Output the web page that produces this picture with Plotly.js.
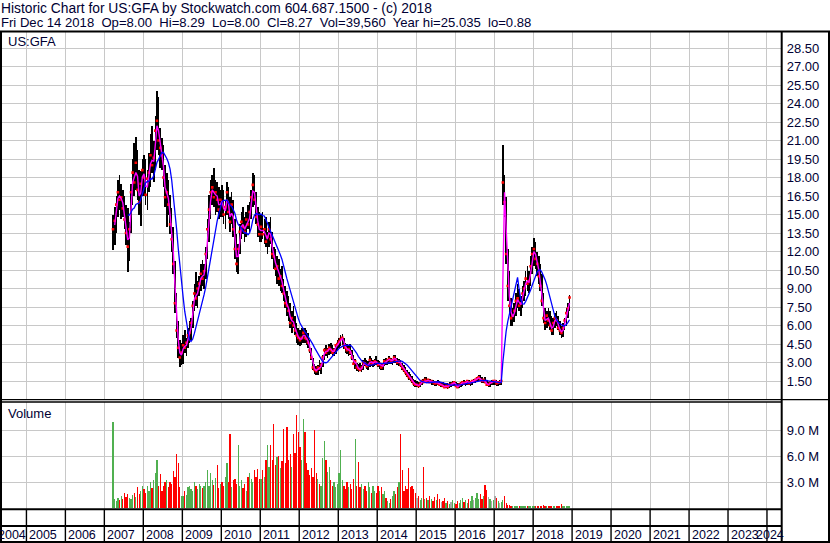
<!DOCTYPE html>
<html>
<head>
<meta charset="utf-8">
<script src="https://cdn.plot.ly/plotly-3.0.1.min.js"></script>
<style>
html,body{margin:0;padding:0;background:#ffffff;}
#chart{width:830px;height:543px;}
</style>
</head>
<body>
<div id="chart"></div>
<script>
// ---------------- text ----------------
const TITLE_LINE_1 = 'Historic Chart for US:GFA by Stockwatch.com 604.687.1500 - (c) 2018';
const TITLE_LINE_2 = 'Fri Dec 14 2018  Op=8.00  Hi=8.29  Lo=8.00  Cl=8.27  Vol=39,560  Year hi=25.035  lo=0.88';
const SYMBOL_LABEL = 'US:GFA';
const VOLUME_LABEL = 'Volume';
const YEARS = [2004,2005,2006,2007,2008,2009,2010,2011,2012,2013,2014,2015,2016,2017,2018,2019,2020,2021,2022,2023,2024];
const PRICE_TICKS = [1.5,3,4.5,6,7.5,9,10.5,12,13.5,15,16.5,18,19.5,21,22.5,24,25.5,27,28.5];
const VOLUME_TICKS = [3e6,6e6,9e6];
const VOLUME_TICK_TEXT = ['3.0 M','6.0 M','9.0 M'];

// ---------------- data: half-month periods, first period = 2nd half of March 2007 ----------------
const FIRST_YEAR = 2007;
const FIRST_HALF_MONTH = 5;   // 0 = 1st half Jan, 5 = 2nd half Mar
const HIGH = [
 // 2007
 15.0,15.6,16.5,17.8,18.2,17.5,17.0,16.5,15.8,15.5,14.4,17.5,19.5,20.8,21.3,20.2,18.6,18.5,19.5,
 // 2008
 19.8,19.5,18.6,20.0,21.5,22.2,21.0,23.0,25.0,24.5,22.0,21.2,20.6,19.0,18.4,17.8,16.6,15.5,14.0,11.2,8.6,6.4,4.8,4.6,
 // 2009
 5.2,5.6,5.0,5.8,6.4,6.6,8.0,9.4,10.3,9.6,10.0,11.0,11.3,11.0,12.4,14.6,16.6,17.8,18.2,18.8,17.8,17.6,17.2,17.0,
 // 2010
 17.4,17.0,16.2,17.6,17.2,16.4,16.8,16.2,14.6,13.4,12.6,14.2,15.2,15.6,14.8,15.2,15.8,16.0,17.0,18.4,18.2,16.8,15.6,15.2,
 // 2011
 15.0,15.2,14.6,14.8,13.6,14.4,14.8,13.6,12.4,12.2,11.6,11.4,10.6,10.8,9.8,9.2,8.8,8.4,7.8,7.2,7.6,6.8,6.2,5.8,
 // 2012
 5.6,5.8,5.8,5.8,5.6,5.4,4.8,4.2,3.4,2.9,2.7,2.8,3.2,3.0,3.6,4.2,4.4,4.2,4.5,4.6,4.4,4.2,4.5,4.8,
 // 2013
 5.0,5.2,5.3,5.0,4.6,4.5,4.3,4.5,4.0,3.6,3.3,3.0,2.9,3.0,2.8,3.2,3.4,3.2,3.1,3.5,3.4,3.2,3.3,3.5,
 // 2014
 3.2,3.1,3.0,3.0,3.3,3.4,3.3,3.5,3.4,3.3,3.6,3.6,3.4,3.3,3.2,3.0,2.8,2.6,2.4,2.2,2.1,1.9,1.7,1.6,
 // 2015
 1.5,1.4,1.4,1.6,1.7,1.8,1.8,1.7,1.7,1.6,1.6,1.5,1.5,1.6,1.5,1.4,1.4,1.3,1.3,1.3,1.4,1.4,1.5,1.5,
 // 2016
 1.4,1.3,1.3,1.4,1.5,1.6,1.5,1.6,1.6,1.5,1.6,1.7,1.7,1.8,2.0,2.0,1.8,1.7,1.8,1.6,1.4,1.5,1.6,1.6,
 // 2017
 1.6,1.6,1.5,1.6,1.6,20.6,18.2,16.4,12.2,10.4,8.2,7.4,7.8,8.6,9.4,9.0,8.4,9.2,9.6,10.4,10.8,10.4,11.6,12.4,
 // 2018
 13.1,12.8,12.0,11.6,11.0,10.2,8.6,7.4,7.2,7.4,7.2,6.8,6.6,7.0,7.2,6.8,6.4,6.0,6.2,6.6,7.4,7.8,8.5
];
const LOW = [
 // 2007
 12.1,12.5,13.5,14.8,15.4,14.6,14.8,13.8,12.5,10.3,11.2,13.5,15.8,16.5,17.0,16.2,15.0,14.1,16.5,
 // 2008
 16.5,15.8,15.4,16.8,17.2,18.4,17.6,18.6,20.2,19.8,18.8,18.6,17.2,15.6,14.0,15.0,13.4,12.0,10.2,7.0,5.0,3.4,2.6,2.8,
 // 2009
 2.9,3.8,3.5,4.2,4.6,4.8,5.8,7.2,7.6,7.4,8.4,8.8,9.2,9.0,9.8,11.4,12.8,14.6,15.8,15.6,15.0,15.2,14.6,14.8,
 // 2010
 14.8,14.2,13.8,15.0,14.6,13.6,14.2,13.2,11.4,10.3,10.2,11.8,13.0,13.4,12.8,13.2,13.8,13.6,14.6,15.6,15.8,14.2,13.2,12.8,
 // 2011
 12.8,13.0,12.6,12.4,11.8,12.4,12.6,11.4,10.6,10.0,9.4,9.2,8.8,8.6,8.0,7.4,6.8,6.4,5.8,5.4,5.8,5.2,4.6,4.4,
 // 2012
 4.3,4.4,4.6,4.6,4.4,4.2,3.8,3.2,2.4,2.1,2.0,2.0,2.3,2.1,2.6,3.2,3.5,3.4,3.6,3.7,3.5,3.5,3.7,4.0,
 // 2013
 4.2,4.3,4.4,4.1,3.8,3.7,3.5,3.6,3.2,2.8,2.5,2.3,2.2,2.3,2.2,2.4,2.7,2.5,2.4,2.6,2.7,2.6,2.7,2.8,
 // 2014
 2.6,2.5,2.4,2.4,2.7,2.8,2.8,2.9,2.9,2.8,3.0,3.0,2.8,2.7,2.6,2.4,2.2,2.0,1.8,1.6,1.5,1.3,1.1,1.0,
 // 2015
 1.0,0.95,1.0,1.2,1.3,1.4,1.4,1.3,1.3,1.2,1.2,1.1,1.1,1.2,1.1,1.0,1.0,0.9,0.9,0.88,0.9,1.0,1.1,1.1,
 // 2016
 1.0,0.9,0.9,1.0,1.1,1.2,1.1,1.2,1.2,1.1,1.2,1.3,1.3,1.4,1.5,1.5,1.3,1.3,1.3,1.1,1.0,1.0,1.2,1.2,
 // 2017
 1.2,1.1,1.1,1.2,1.2,15.8,14.8,11.0,8.0,7.0,6.0,6.0,6.3,6.8,7.4,7.2,6.8,7.4,8.0,8.4,8.8,8.6,9.2,10.2,
 // 2018
 10.8,10.6,10.0,9.4,8.8,7.6,6.2,5.6,5.8,6.0,5.6,5.2,5.2,5.8,6.0,5.6,5.2,5.0,5.1,5.6,6.0,6.6,7.2
];
const CLOSE = [
 // 2007
 13.8,14.5,15.8,16.8,16.2,16.4,15.5,14.6,13.5,12.4,13.8,16.8,18.4,17.6,19.2,17.0,16.0,17.5,18.6,
 // 2008
 18.0,16.6,17.9,18.4,19.8,19.0,19.6,21.8,22.6,21.0,20.4,19.8,18.0,16.4,16.8,15.8,14.2,13.0,11.0,7.8,5.6,4.2,3.4,3.8,
 // 2009
 4.4,4.2,4.6,5.2,5.4,6.2,7.6,8.6,8.2,9.0,9.4,10.2,9.8,10.4,11.8,13.8,15.4,16.8,17.2,16.4,16.8,16.2,15.4,16.2,
 // 2010
 16.0,15.0,15.6,16.8,15.2,14.4,15.8,13.8,12.2,11.0,12.2,13.6,14.4,14.0,13.6,14.6,14.2,15.2,16.4,17.4,16.2,14.8,14.2,13.4,
 // 2011
 14.0,13.4,13.8,12.8,13.2,13.8,13.0,11.8,11.6,10.6,10.8,9.8,10.0,9.2,8.6,7.8,7.6,7.2,6.2,6.6,6.0,5.6,5.2,5.0,
 // 2012
 4.8,5.0,5.4,5.0,4.9,4.6,4.0,3.4,2.6,2.4,2.3,2.6,2.5,2.8,3.4,4.0,3.8,4.0,4.2,4.0,3.8,4.0,4.4,4.5,
 // 2013
 4.7,4.9,5.0,4.4,4.2,4.0,4.1,3.8,3.4,2.9,3.1,2.6,2.5,2.4,2.6,3.0,2.9,2.7,2.8,3.2,2.9,3.0,3.1,3.0,
 // 2014
 2.8,2.9,2.6,2.8,3.1,3.0,3.2,3.3,3.1,3.2,3.4,3.2,3.0,3.1,2.8,2.6,2.4,2.2,2.0,1.8,1.7,1.5,1.3,1.2,
 // 2015
 1.2,1.1,1.3,1.5,1.4,1.6,1.5,1.6,1.4,1.5,1.4,1.3,1.4,1.3,1.2,1.2,1.1,1.0,1.1,1.0,1.2,1.2,1.3,1.4,
 // 2016
 1.1,1.0,1.2,1.3,1.4,1.3,1.4,1.5,1.3,1.4,1.5,1.5,1.6,1.7,1.8,1.6,1.5,1.6,1.4,1.2,1.2,1.4,1.4,1.5,
 // 2017
 1.5,1.3,1.4,1.4,1.5,17.6,16.0,11.8,9.2,7.6,6.6,6.8,7.2,8.0,8.2,7.6,7.8,8.6,9.0,9.8,9.4,9.6,10.8,11.8,
 // 2018
 12.2,11.4,11.0,10.0,9.2,8.0,6.6,6.2,6.8,6.4,6.0,5.6,6.2,6.6,6.4,5.8,5.6,5.4,5.8,6.4,7.0,7.4,8.27
];
const VOLUME_M = [
 // 2007
 9.9,1.0,0.8,1.2,0.9,1.4,1.0,1.8,1.3,1.6,1.2,1.0,1.5,1.8,1.3,2.4,1.6,2.0,2.6,
 // 2008
 2.2,1.8,2.6,2.0,3.0,2.3,3.3,4.1,5.5,2.6,3.9,2.0,2.6,3.0,3.3,2.4,3.0,2.8,4.3,3.6,6.2,5.2,2.4,1.4,
 // 2009
 1.4,2.0,1.5,2.4,2.6,2.2,2.0,3.0,2.5,2.2,2.8,2.6,2.3,2.6,3.0,4.4,2.6,4.1,3.2,2.7,3.5,5.0,2.3,2.8,
 // 2010
 3.0,2.6,3.6,5.2,3.0,8.6,2.4,3.2,3.4,2.8,7.3,2.6,3.2,2.3,2.8,2.0,3.6,4.0,3.4,3.0,4.4,3.6,4.5,3.4,
 // 2011
 3.4,4.4,3.6,5.5,7.3,4.8,7.3,5.6,9.7,5.0,5.9,6.0,4.6,5.4,9.1,5.2,9.4,5.6,6.2,4.8,8.6,6.4,10.7,8.8,
 // 2012
 7.0,5.6,10.3,8.8,5.2,4.4,3.8,4.6,3.6,9.0,4.0,3.4,2.8,2.6,5.8,7.7,5.6,4.2,4.7,3.2,2.6,3.0,2.4,2.8,
 // 2013
 4.0,6.7,3.2,2.6,2.2,3.0,2.4,2.8,2.2,3.4,8.0,2.6,5.3,2.4,2.8,2.2,2.6,2.0,3.0,2.4,1.8,2.6,2.0,1.8,
 // 2014
 2.6,2.0,2.4,1.6,2.0,1.2,0.8,0.6,1.0,1.4,2.0,1.6,2.4,3.0,8.5,4.4,2.0,2.6,2.2,4.6,2.4,2.6,2.2,1.8,
 // 2015
 1.2,1.4,0.9,1.2,4.7,1.0,1.2,0.9,1.4,1.0,0.8,1.3,0.9,1.6,1.0,0.7,0.8,1.2,0.6,0.8,0.5,0.7,0.9,0.6,
 // 2016
 0.5,0.8,0.6,0.9,1.2,0.7,0.9,0.6,1.0,0.8,1.4,0.9,1.2,1.8,1.0,1.6,1.0,1.4,2.7,2.1,1.3,1.0,0.8,0.9,
 // 2017
 1.4,1.2,0.8,0.6,0.7,0.9,1.4,0.6,0.4,0.35,0.3,0.3,0.25,0.3,0.2,0.25,0.2,0.3,0.2,0.25,0.3,0.2,0.3,0.25,
 // 2018
 0.3,0.25,0.3,0.2,0.25,0.3,0.35,0.3,0.2,0.2,0.25,0.2,0.2,0.25,0.3,0.2,0.25,0.5,0.3,0.2,0.25,0.3,0.2
];
// moving-average lengths used by the chart (in half-month periods)
const SHORT_MA_PERIODS = 2;
const LONG_MA_PERIODS = 10;

// ---------------- build ----------------
function pad(n){return (n<10?'0':'')+n;}
const DATES = HIGH.map((_, k) => {
  const idx = FIRST_HALF_MONTH + k;
  const y = FIRST_YEAR + Math.floor(idx / 24);
  const h = idx % 24;
  return y + '-' + pad(Math.floor(h / 2) + 1) + '-' + (h % 2 ? '23' : '08');
});
function movingAverage(values, n){
  return values.map((v, i) => {
    if (i < n - 1) return null;
    let s = 0; for (let j = i - n + 1; j <= i; j++) s += values[j];
    return s / n;
  });
}
const MA_SHORT = movingAverage(CLOSE, SHORT_MA_PERIODS);
const MA_LONG = movingAverage(CLOSE, LONG_MA_PERIODS);
const VOLUME = VOLUME_M.map(v => v * 1e6);
const VOLUME_COLORS = CLOSE.map((c, i) => {
  if (i === 0) return '#50b050';
  return c > CLOSE[i-1] ? '#50b050' : (c < CLOSE[i-1] ? '#ff0000' : '#a8a8a8');
});
const DAY = 86400000;

const W = 830, H = 543;
const PX = x => x / W, PY = y => 1 - y / H;
const FONT = 'Liberation Sans, Arial, sans-serif';
const TEXT_COLOR = '#000033';
const GRID = '#c8c8c8';

const traces = [
  {type:'bar', x:DATES, base:LOW, y:HIGH.map((h,i)=>h-LOW[i]), width:15*DAY,
   marker:{color:'#000000', line:{width:0}}, xaxis:'x', yaxis:'y', hoverinfo:'skip'},
  {type:'scatter', mode:'markers', x:DATES, y:CLOSE, marker:{symbol:'square', size:2.6, color:'#ff0000'},
   xaxis:'x', yaxis:'y', hoverinfo:'skip'},
  {type:'scatter', mode:'lines', x:DATES, y:MA_SHORT, line:{color:'#ff00ff', width:1.4},
   connectgaps:false, xaxis:'x', yaxis:'y', hoverinfo:'skip'},
  {type:'scatter', mode:'lines', x:DATES, y:MA_LONG, line:{color:'#0000ff', width:1.3},
   connectgaps:false, xaxis:'x', yaxis:'y', hoverinfo:'skip'},
  {type:'bar', x:DATES, y:VOLUME, width:12*DAY, marker:{color:VOLUME_COLORS, line:{width:0}},
   xaxis:'x2', yaxis:'y2', hoverinfo:'skip'}
];

const yearStarts = YEARS.map(y => y + '-01-01');
const xCommon = {
  type:'date', domain:[PX(2), PX(781.7)], range:['2004-05-17','2024-05-18'],
  tickvals:yearStarts, showticklabels:false, ticks:'', showgrid:true, gridcolor:GRID, gridwidth:1,
  zeroline:false, showline:false, fixedrange:true
};

const shapes = [];
const line = (x0,y0,x1,y1,w,xref) => shapes.push({type:'line', xref:xref||'paper', yref:'paper',
  x0:x0, x1:x1, y0:PY(y0), y1:PY(y1), line:{color:'#000000', width:w}, layer:'above'});
line(PX(0),31.5,PX(830),31.5,2);      // under header
line(PX(1),31,PX(1),543,2);           // left border
line(PX(829),31,PX(829),543,2);       // right border
line(PX(0),542,PX(830),542,2);        // bottom border
line(PX(781.7),31,PX(781.7),543,2);   // axis divider
line(PX(0),399.6,PX(830),399.6,1.3);  // price panel bottom
line(PX(0),402,PX(781.7),402,1.3);    // volume panel top
line(PX(0),509.3,PX(781.7),509.3,2);  // volume panel bottom
line(PX(0),526,PX(781.7),526,2);      // year row top
YEARS.slice(1).forEach(y => line(y+'-01-01',509,y+'-01-01',542,1.4,'x'));

const annotations = [
  {text:TITLE_LINE_1.replace(/ {2}/g,'\u00a0 '), xref:'paper', yref:'paper', x:PX(-1), y:PY(8.5), xanchor:'left', yanchor:'middle',
   showarrow:false, font:{family:FONT, size:13.8, color:TEXT_COLOR}},
  {text:TITLE_LINE_2.replace(/ {2}/g,'\u00a0 '), xref:'paper', yref:'paper', x:PX(-1), y:PY(22.5), xanchor:'left', yanchor:'middle',
   showarrow:false, font:{family:FONT, size:13.1, color:TEXT_COLOR}},
  {text:SYMBOL_LABEL, xref:'paper', yref:'paper', x:PX(6), y:PY(41.7), xanchor:'left', yanchor:'middle',
   showarrow:false, font:{family:FONT, size:13, color:TEXT_COLOR}},
  {text:VOLUME_LABEL, xref:'paper', yref:'paper', x:PX(6), y:PY(413.3), xanchor:'left', yanchor:'middle',
   showarrow:false, font:{family:FONT, size:13, color:TEXT_COLOR}}
];
YEARS.forEach((y, i) => {
  const a = {text:String(y), yref:'paper', y:PY(535), xanchor:'left', yanchor:'middle', showarrow:false,
             font:{family:FONT, size:12.5, color:TEXT_COLOR}};
  if (i === 0) { a.xref = 'paper'; a.x = PX(-4); }
  else if (i === YEARS.length - 1) { a.xref = 'paper'; a.x = PX(754); }
  else { a.xref = 'x'; a.x = y + '-01-01'; a.xshift = 1; }
  annotations.push(a);
});

const layout = {
  width:W, height:H, margin:{l:0,r:0,t:0,b:0}, paper_bgcolor:'#ffffff', plot_bgcolor:'#ffffff',
  showlegend:false, hovermode:false, barmode:'overlay', bargap:0,
  xaxis:Object.assign({}, xCommon, {anchor:'y'}),
  xaxis2:Object.assign({}, xCommon, {anchor:'y2', matches:'x'}),
  yaxis:{domain:[PY(399.5), PY(32)], range:[0,29.8], side:'right', anchor:'x',
    tickvals:PRICE_TICKS, tickformat:'.2f', ticks:'', ticklabelstandoff:4,
    showgrid:true, gridcolor:GRID, gridwidth:1, zeroline:false, showline:false, fixedrange:true,
    tickfont:{family:FONT, size:13, color:TEXT_COLOR}},
  yaxis2:{domain:[PY(509), PY(402)], range:[-0.1e6, 12.24e6], side:'right', anchor:'x2',
    tickvals:VOLUME_TICKS, ticktext:VOLUME_TICK_TEXT, ticks:'', ticklabelstandoff:4,
    showgrid:true, gridcolor:GRID, gridwidth:1, zeroline:false, showline:false, fixedrange:true,
    tickfont:{family:FONT, size:13, color:TEXT_COLOR}},
  shapes:shapes, annotations:annotations
};

Plotly.newPlot('chart', traces, layout, {displayModeBar:false, staticPlot:true});
</script>
</body>
</html>
